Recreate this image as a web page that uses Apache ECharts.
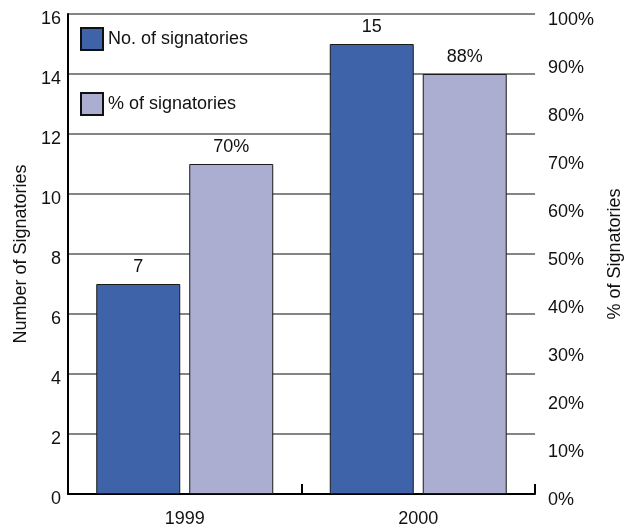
<!DOCTYPE html>
<html>
<head>
<meta charset="utf-8">
<script src="https://cdn.jsdelivr.net/npm/echarts@6/dist/echarts.min.js"></script>
<style>
  html, body { margin: 0; padding: 0; background: #fff; }
  #chart { width: 633px; height: 528px; }
</style>
</head>
<body>
<div id="chart"></div>
<script>
// 数据
const years = ['1999', '2000'];
const signatories = [7, 15];
// 百分比柱的高度和标签文字
const percentSignatories = [68.75, 87.5];
const percentLabels = ['70%', '88%'];
const leftTicks = { min: 0, max: 16, interval: 2 };
const rightTicks = { min: 0, max: 100, interval: 10 };

const font = 'Liberation Sans, Arial, sans-serif';
const myChart = echarts.init(document.getElementById('chart'));

const options = {
  animation: false,
  textStyle: { fontFamily: font },
  grid: { left: 68, right: 98, top: 14, bottom: 31 },
  legend: {
    orient: 'vertical',
    left: 80,
    top: 27,
    padding: 0,
    icon: 'rect',
    itemWidth: 22,
    itemHeight: 22,
    itemGap: 41,
    textStyle: { fontSize: 18, color: '#111', fontFamily: font },
    itemStyle: { borderColor: '#111', borderWidth: 2 },
    data: ['No. of signatories', '% of signatories']
  },
  xAxis: {
    type: 'category',
    data: years,
    axisLine: { lineStyle: { color: '#000', width: 2 } },
    axisTick: { show: true, inside: true, length: 10, lineStyle: { color: '#000', width: 2 } },
    axisLabel: { fontSize: 18, color: '#111', margin: 16 }
  },
  yAxis: [
    {
      type: 'value',
      min: leftTicks.min,
      max: leftTicks.max,
      interval: leftTicks.interval,
      name: 'Number of Signatories',
      nameLocation: 'middle',
      nameGap: 36,
      nameTextStyle: { fontSize: 18, color: '#111' },
      axisLine: { show: true, lineStyle: { color: '#000', width: 2 } },
      axisTick: { show: false },
      axisLabel: {
        fontSize: 18, color: '#111', margin: 7,
        verticalAlign: 'top',
        lineHeight: 10
      },
      splitLine: { lineStyle: { color: '#858585', width: 2 } }
    },
    {
      type: 'value',
      min: rightTicks.min,
      max: rightTicks.max,
      interval: rightTicks.interval,
      name: '% of Signatories',
      nameLocation: 'middle',
      nameGap: 71,
      nameTextStyle: { fontSize: 18, color: '#111' },
      axisLine: { show: false },
      axisTick: { show: false },
      splitLine: { show: false },
      axisLabel: {
        fontSize: 18, color: '#111', margin: 13,
        verticalAlign: 'top',
        lineHeight: 12,
        formatter: '{value}%'
      }
    }
  ],
  series: [
    {
      name: 'No. of signatories',
      type: 'bar',
      data: signatories,
      barWidth: 84,
      barGap: '10.7%',
      itemStyle: { color: '#3e63a8', borderColor: '#1a1a1a', borderWidth: 1 },
      label: { show: true, position: 'top', distance: 8, fontSize: 18, color: '#111' }
    },
    {
      name: '% of signatories',
      type: 'bar',
      yAxisIndex: 1,
      data: percentSignatories,
      barWidth: 84,
      itemStyle: { color: '#abaed1', borderColor: '#1a1a1a', borderWidth: 1 },
      label: {
        show: true, position: 'top', distance: 8, fontSize: 18, color: '#111',
        formatter: (p) => percentLabels[p.dataIndex]
      }
    }
  ]
};

myChart.setOption(options);
</script>
</body>
</html>
